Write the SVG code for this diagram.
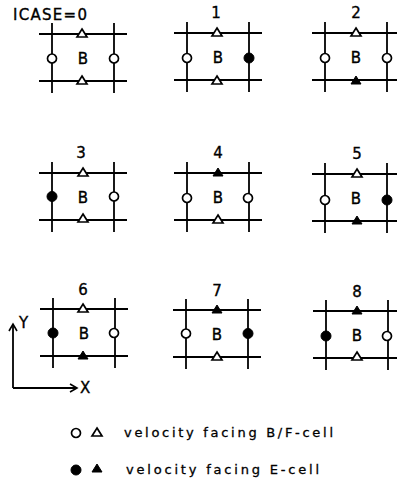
<svg xmlns="http://www.w3.org/2000/svg" xmlns:xlink="http://www.w3.org/1999/xlink" width="397" height="486" viewBox="0 0 397 486">
<style>
.ln{stroke:#000;stroke-width:1.8;fill:none}
.oc{fill:#fff;stroke:#000;stroke-width:1.7}
.fc{fill:#000;stroke:#000;stroke-width:1}
.ot{fill:#fff;stroke:#000;stroke-width:1.7;stroke-linejoin:miter}
.ft{fill:#000;stroke:#000;stroke-width:1}
.t{font-family:"DejaVu Sans","Liberation Sans",sans-serif;font-size:15px;fill:#000;stroke:#000;stroke-width:0.35}
.lg{font-family:"DejaVu Sans","Liberation Sans",sans-serif;font-size:13px;fill:#000;stroke:#000;stroke-width:0.3}
</style>
<defs>
<g id="grid">
<line class="ln" x1="-13" y1="0" x2="75" y2="0"/>
<line class="ln" x1="-13" y1="47" x2="75" y2="47"/>
<line class="ln" x1="0" y1="-11" x2="0" y2="59"/>
<line class="ln" x1="62" y1="-11" x2="62" y2="59"/>
<text class="t" x="31" y="30" text-anchor="middle">B</text>
</g>
<circle id="oc" class="oc" r="4.5"/>
<circle id="fc" class="fc" r="5"/>
<path id="ot" class="ot" d="M0,-5 L5,3 L-5,3 Z"/>
<path id="ft" class="ft" d="M0,-5 L5,3 L-5,3 Z"/>
<marker id="arr" markerWidth="10" markerHeight="10" refX="8" refY="5" orient="auto" markerUnits="userSpaceOnUse">
<path d="M1,1 L8,5 L1,9" fill="none" stroke="#000" stroke-width="1.6"/>
</marker>
</defs>

<g id="case0" transform="translate(52,34)">
<use xlink:href="#grid"/>
<use xlink:href="#oc" x="0" y="24.5"/><use xlink:href="#oc" x="62" y="24.5"/>
<use xlink:href="#ot" x="30" y="0"/><use xlink:href="#ot" x="30" y="47"/>
</g>
<text class="t" x="13" y="20" textLength="74" lengthAdjust="spacing">ICASE=0</text>

<g id="case1" transform="translate(187,33)">
<use xlink:href="#grid"/>
<text class="t" x="29" y="-15" text-anchor="middle">1</text>
<use xlink:href="#oc" x="0" y="25"/><use xlink:href="#fc" x="62" y="25"/>
<use xlink:href="#ot" x="30" y="0"/><use xlink:href="#ot" x="30" y="48"/>
</g>

<g id="case2" transform="translate(325,33)">
<use xlink:href="#grid"/>
<text class="t" x="31" y="-15" text-anchor="middle">2</text>
<use xlink:href="#oc" x="0" y="25"/><use xlink:href="#oc" x="62" y="25"/>
<use xlink:href="#ot" x="31" y="0"/><use xlink:href="#ft" x="31" y="48"/>
</g>

<g id="case3" transform="translate(52,173)">
<use xlink:href="#grid"/>
<text class="t" x="29" y="-15" text-anchor="middle">3</text>
<use xlink:href="#fc" x="0" y="23.5"/><use xlink:href="#oc" x="62" y="23.5"/>
<use xlink:href="#ot" x="31" y="0"/><use xlink:href="#ot" x="31" y="46"/>
</g>

<g id="case4" transform="translate(187,173)">
<use xlink:href="#grid"/>
<text class="t" x="31" y="-15" text-anchor="middle">4</text>
<use xlink:href="#oc" x="0" y="25"/><use xlink:href="#oc" x="61" y="25"/>
<use xlink:href="#ft" x="31" y="0"/><use xlink:href="#ot" x="31" y="47"/>
</g>

<g id="case5" transform="translate(325,174)">
<use xlink:href="#grid"/>
<text class="t" x="32" y="-15" text-anchor="middle">5</text>
<use xlink:href="#oc" x="0" y="26"/><use xlink:href="#fc" x="62" y="26"/>
<use xlink:href="#ot" x="32" y="0"/><use xlink:href="#ft" x="32" y="47"/>
</g>

<g id="case6" transform="translate(53,309)">
<use xlink:href="#grid"/>
<text class="t" x="30" y="-14" text-anchor="middle">6</text>
<use xlink:href="#fc" x="0" y="24"/><use xlink:href="#oc" x="61" y="24"/>
<use xlink:href="#ot" x="30" y="0"/><use xlink:href="#ft" x="30" y="47"/>
</g>

<g id="case7" transform="translate(186,310)">
<use xlink:href="#grid"/>
<text class="t" x="31" y="-14" text-anchor="middle">7</text>
<use xlink:href="#oc" x="0" y="23.5"/><use xlink:href="#fc" x="62" y="23.5"/>
<use xlink:href="#ft" x="31" y="0"/><use xlink:href="#ot" x="31" y="47"/>
</g>

<g id="case8" transform="translate(326,311)">
<use xlink:href="#grid"/>
<text class="t" x="31" y="-14" text-anchor="middle">8</text>
<use xlink:href="#fc" x="0" y="25"/><use xlink:href="#oc" x="61" y="25"/>
<use xlink:href="#ft" x="31" y="0"/><use xlink:href="#ot" x="31" y="46"/>
</g>

<g id="axes">
<line class="ln" x1="13" y1="388" x2="13" y2="324" marker-end="url(#arr)"/>
<line class="ln" x1="13" y1="388" x2="77" y2="388" marker-end="url(#arr)"/>
<text class="t" x="19" y="328">Y</text>
<text class="t" x="80" y="393">X</text>
</g>

<g id="legend">
<use xlink:href="#oc" x="76" y="433"/>
<use xlink:href="#ot" x="97" y="433"/>
<text class="lg" x="124" y="437" textLength="209" lengthAdjust="spacing">velocity facing B/F-cell</text>
<use xlink:href="#fc" x="76" y="470"/>
<use xlink:href="#ft" x="97" y="469"/>
<text class="lg" x="126" y="474" textLength="193" lengthAdjust="spacing">velocity facing E-cell</text>
</g>
</svg>
